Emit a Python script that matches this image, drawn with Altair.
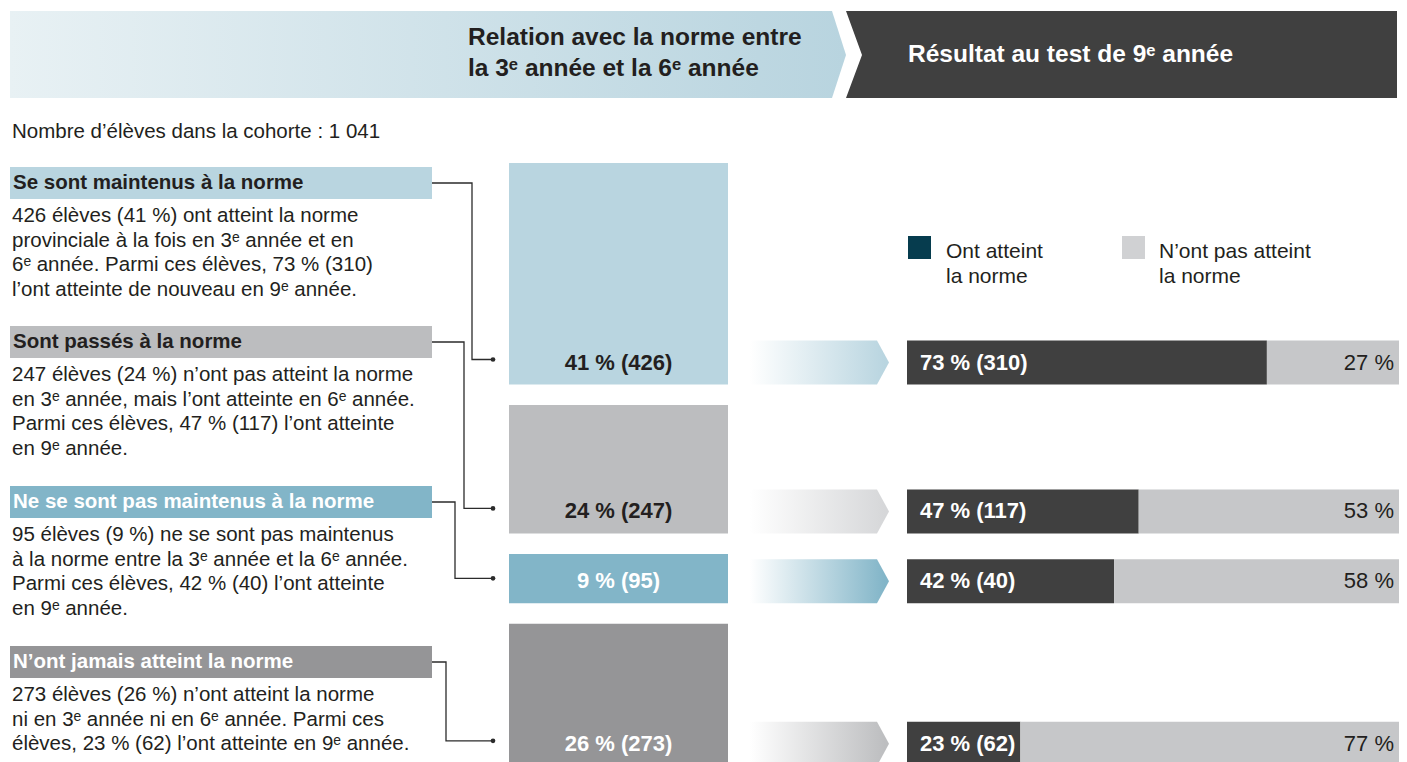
import altair as alt
import pandas as pd

# ---------------- data ----------------
categories = [
    "Se sont maintenus à la norme",
    "Sont passés à la norme",
    "Ne se sont pas maintenus à la norme",
    "N’ont jamais atteint la norme",
]
counts = [426, 247, 95, 273]
shares = [41, 24, 9, 26]
met_pct = [73, 47, 42, 23]
met_n = [310, 117, 40, 62]
not_met_pct = [27, 53, 58, 77]
descriptions = [
    ["426 élèves (41 %) ont atteint la norme",
     "provinciale à la fois en 3ᵉ année et en",
     "6ᵉ année. Parmi ces élèves, 73 % (310)",
     "l’ont atteinte de nouveau en 9ᵉ année."],
    ["247 élèves (24 %) n’ont pas atteint la norme",
     "en 3ᵉ année, mais l’ont atteinte en 6ᵉ année.",
     "Parmi ces élèves, 47 % (117) l’ont atteinte",
     "en 9ᵉ année."],
    ["95 élèves (9 %) ne se sont pas maintenus",
     "à la norme entre la 3ᵉ année et la 6ᵉ année.",
     "Parmi ces élèves, 42 % (40) l’ont atteinte",
     "en 9ᵉ année."],
    ["273 élèves (26 %) n’ont atteint la norme",
     "ni en 3ᵉ année ni en 6ᵉ année. Parmi ces",
     "élèves, 23 % (62) l’ont atteinte en 9ᵉ année."],
]
cohort_label = "Nombre d’élèves dans la cohorte : 1 041"
header_left = ["Relation avec la norme entre", "la 3ᵉ année et la 6ᵉ année"]
header_right = "Résultat au test de 9ᵉ année"
legend_labels = [["Ont atteint", "la norme"], ["N’ont pas atteint", "la norme"]]

# ---------------- styles ----------------
row_colors = ["#b9d5e0", "#bcbdbf", "#82b5c8", "#959597"]
arrow_colors = ["#b9d5e0", "#d6d7d9", "#82b5c8", "#bdbec0"]
header_text_colors = ["#231f20", "#231f20", "#ffffff", "#ffffff"]
box_text_colors = ["#231f20", "#231f20", "#ffffff", "#ffffff"]
dark = "#404040"
light = "#c6c7c9"
legend_dark = "#063c4e"
legend_light = "#d0d1d3"
text_color = "#231f20"
FONT = "Liberation Sans"
FS_BODY = 20.5
FS_HEAD = 24.5
FS_LABEL = 22

W, H = 1391, 754
XS = alt.Scale(domain=[8, 8 + W], nice=False, zero=False)
YS = alt.Scale(domain=[8, 8 + H], nice=False, zero=False, reverse=True)


def X(f):
    return alt.X(f"{f}:Q", scale=XS, axis=None)


def Y(f):
    return alt.Y(f"{f}:Q", scale=YS, axis=None)


# ---------------- layout ----------------
px_per_student = 0.52
box_x0, box_x1 = 509, 728
bar_x0, bar_w, bar_h = 907, 493, 44
arr_x0, arr_x1, arr_tip = 750, 877, 889
head_tops = [167, 326, 486, 646]
head_h = 32
line_gap = 24.6
vx = [472, 464, 455, 446]

tops, bottoms = [], []
cur = 163
for c in counts:
    tops.append(cur)
    b = cur + c * px_per_student
    bottoms.append(b)
    cur = b + 20.5

layers = []

# Banners
left_banner = pd.DataFrame({"y": [11, 55, 98], "x": [10, 10, 10], "x2": [832, 846, 832]})
layers.append(
    alt.Chart(left_banner).mark_area(
        orient="horizontal",
        color=alt.Gradient(gradient="linear", x1=0, y1=0, x2=1, y2=0,
                           stops=[alt.GradientStop(color="#e8f1f4", offset=0),
                                  alt.GradientStop(color="#b8d4df", offset=1)]))
    .encode(y=Y("y"), x=X("x"), x2="x2:Q")
)
right_banner = pd.DataFrame({"y": [11, 55, 98], "x": [846, 862, 846], "x2": [1397, 1397, 1397]})
layers.append(
    alt.Chart(right_banner).mark_area(orient="horizontal", color=dark)
    .encode(y=Y("y"), x=X("x"), x2="x2:Q")
)
hl = pd.DataFrame({"x": [468, 468], "y": [38, 69], "t": header_left})
layers.append(alt.Chart(hl).mark_text(align="left", baseline="middle", font=FONT, fontSize=FS_HEAD,
                                      fontWeight="bold", color=text_color)
              .encode(x=X("x"), y=Y("y"), text="t:N"))
hr = pd.DataFrame({"x": [908], "y": [55], "t": [header_right]})
layers.append(alt.Chart(hr).mark_text(align="left", baseline="middle", font=FONT, fontSize=FS_HEAD,
                                      fontWeight="bold", color="#ffffff")
              .encode(x=X("x"), y=Y("y"), text="t:N"))

# Cohort label
cl = pd.DataFrame({"x": [12], "y": [132], "t": [cohort_label]})
layers.append(alt.Chart(cl).mark_text(align="left", baseline="middle", font=FONT, fontSize=FS_BODY,
                                      color=text_color)
              .encode(x=X("x"), y=Y("y"), text="t:N"))

# Category header boxes
hdr = pd.DataFrame({
    "x": [10] * 4, "x2": [432] * 4,
    "y": head_tops, "y2": [t + head_h for t in head_tops],
    "cat": categories,
})
layers.append(alt.Chart(hdr).mark_rect().encode(
    x=X("x"), x2="x2:Q", y=Y("y"), y2="y2:Q",
    color=alt.Color("cat:N", scale=alt.Scale(domain=categories, range=row_colors), legend=None)))
hdr_txt = pd.DataFrame({"x": [13] * 4, "y": [t + head_h / 2 for t in head_tops],
                        "t": categories, "cat": categories})
layers.append(alt.Chart(hdr_txt).mark_text(align="left", baseline="middle", font=FONT, fontSize=FS_BODY,
                                           fontWeight="bold")
              .encode(x=X("x"), y=Y("y"), text="t:N",
                      color=alt.Color("cat:N", scale=alt.Scale(domain=categories, range=header_text_colors),
                                      legend=None)))

# Description lines
rows = []
for i, lines in enumerate(descriptions):
    for j, ln in enumerate(lines):
        rows.append({"x": 12, "y": head_tops[i] + head_h / 2 + 33 + j * line_gap, "t": ln})
layers.append(alt.Chart(pd.DataFrame(rows)).mark_text(align="left", baseline="middle", font=FONT,
                                                      fontSize=FS_BODY, color=text_color)
              .encode(x=X("x"), y=Y("y"), text="t:N"))

# Left boxes (height from counts)
bars_mid = [b - bar_h / 2 for b in bottoms]
boxes = pd.DataFrame({"x": [box_x0] * 4, "x2": [box_x1] * 4, "y": tops, "y2": bottoms, "cat": categories})
layers.append(alt.Chart(boxes).mark_rect().encode(
    x=X("x"), x2="x2:Q", y=Y("y"), y2="y2:Q",
    color=alt.Color("cat:N", scale=alt.Scale(domain=categories, range=row_colors), legend=None)))
box_txt = pd.DataFrame({"x": [(box_x0 + box_x1) / 2] * 4, "y": [m for m in bars_mid],
                        "t": [f"{s} % ({c})" for s, c in zip(shares, counts)], "cat": categories})
layers.append(alt.Chart(box_txt).mark_text(align="center", baseline="middle", font=FONT, fontSize=FS_LABEL,
                                           fontWeight="bold")
              .encode(x=X("x"), y=Y("y"), text="t:N",
                      color=alt.Color("cat:N", scale=alt.Scale(domain=categories, range=box_text_colors),
                                      legend=None)))

# Connectors
con = []
dots = []
for i in range(4):
    hc = head_tops[i] + head_h / 2
    dy = bars_mid[i] - 3
    for k, (px, py) in enumerate([(432, hc), (vx[i], hc), (vx[i], dy), (493, dy)]):
        con.append({"x": px, "y": py, "row": i, "o": k})
    dots.append({"x": 493, "y": dy})
layers.append(alt.Chart(pd.DataFrame(con)).mark_line(color="#2b2b2b", strokeWidth=1.3)
              .encode(x=X("x"), y=Y("y"), detail="row:N", order="o:Q"))
layers.append(alt.Chart(pd.DataFrame(dots)).mark_point(filled=True, color="#2b2b2b", size=22, opacity=1)
              .encode(x=X("x"), y=Y("y")))

# Gradient arrows
for i in range(4):
    t, b = bottoms[i] - bar_h, bottoms[i]
    ad = pd.DataFrame({"y": [t, (t + b) / 2, b], "x": [arr_x0] * 3, "x2": [arr_x1, arr_tip, arr_x1]})
    layers.append(
        alt.Chart(ad).mark_area(
            orient="horizontal",
            color=alt.Gradient(gradient="linear", x1=0, y1=0, x2=1, y2=0,
                               stops=[alt.GradientStop(color="#ffffff", offset=0),
                                      alt.GradientStop(color=arrow_colors[i], offset=0.97),
                                      alt.GradientStop(color=arrow_colors[i], offset=1)]))
        .encode(y=Y("y"), x=X("x"), x2="x2:Q"))

# Stacked result bars
sb = []
for i in range(4):
    xm = bar_x0 + bar_w * met_pct[i] / 100
    xe = xm + bar_w * not_met_pct[i] / 100
    sb.append({"x": bar_x0, "x2": xm, "y": bottoms[i] - bar_h, "y2": bottoms[i], "k": "met"})
    sb.append({"x": xm, "x2": xe, "y": bottoms[i] - bar_h, "y2": bottoms[i], "k": "not"})
layers.append(alt.Chart(pd.DataFrame(sb)).mark_rect().encode(
    x=X("x"), x2="x2:Q", y=Y("y"), y2="y2:Q",
    color=alt.Color("k:N", scale=alt.Scale(domain=["met", "not"], range=[dark, light]), legend=None)))
met_txt = pd.DataFrame({"x": [bar_x0 + 13] * 4, "y": bars_mid,
                        "t": [f"{p} % ({n})" for p, n in zip(met_pct, met_n)]})
layers.append(alt.Chart(met_txt).mark_text(align="left", baseline="middle", font=FONT, fontSize=FS_LABEL,
                                           fontWeight="bold", color="#ffffff")
              .encode(x=X("x"), y=Y("y"), text="t:N"))
not_txt = pd.DataFrame({"x": [1394] * 4, "y": bars_mid, "t": [f"{p} %" for p in not_met_pct]})
layers.append(alt.Chart(not_txt).mark_text(align="right", baseline="middle", font=FONT, fontSize=FS_LABEL,
                                           color=text_color)
              .encode(x=X("x"), y=Y("y"), text="t:N"))

# Legend
lg = pd.DataFrame({"x": [908, 1122], "x2": [931, 1145], "y": [236, 236], "y2": [259, 259],
                   "k": ["a", "b"]})
layers.append(alt.Chart(lg).mark_rect().encode(
    x=X("x"), x2="x2:Q", y=Y("y"), y2="y2:Q",
    color=alt.Color("k:N", scale=alt.Scale(domain=["a", "b"], range=[legend_dark, legend_light]),
                    legend=None)))
lt = []
for xx, lines in zip([946, 1159], legend_labels):
    for j, ln in enumerate(lines):
        lt.append({"x": xx, "y": 252 + j * 25, "t": ln})
layers.append(alt.Chart(pd.DataFrame(lt)).mark_text(align="left", baseline="middle", font=FONT,
                                                    fontSize=21, color=text_color)
              .encode(x=X("x"), y=Y("y"), text="t:N"))

chart = alt.layer(*layers).resolve_scale(color="independent").properties(
    width=W, height=H, padding=0, autosize=alt.AutoSizeParams(type="none")
).configure_view(stroke=None)

chart.save("out.html", embed_options={"renderer": "svg", "actions": False})
